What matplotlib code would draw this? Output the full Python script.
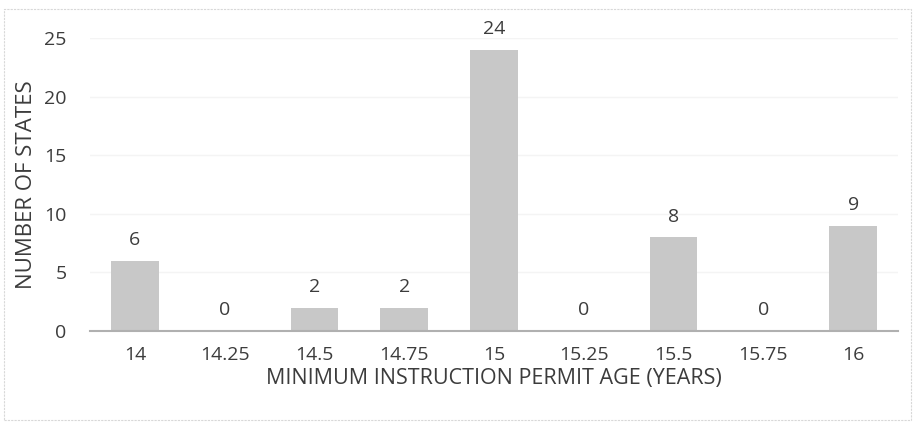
import matplotlib
matplotlib.use("Agg")
import matplotlib.pyplot as plt
from matplotlib.patches import Rectangle

categories = ["14", "14.25", "14.5", "14.75", "15", "15.25", "15.5", "15.75", "16"]
counts = [6, 0, 2, 2, 24, 0, 8, 0, 9]
yticks = [0, 5, 10, 15, 20, 25]

plt.rcParams['font.family'] = ['Open Sans', 'DejaVu Sans']
txt = '#3c3c3c'

fig = plt.figure(figsize=(9.15, 4.28), dpi=100)
fig.patch.set_facecolor('white')
fig.add_artist(Rectangle((4/915, 1-420/428), 907/915, 411/428, transform=fig.transFigure,
                         fill=False, edgecolor='#d8d8d8', lw=0.8, linestyle=(0, (2, 1))))
ax = fig.add_axes([90/915, 1-331/428, 808/915, 293/428])
x = list(range(len(categories)))
ax.bar(x, counts, width=0.53, color='#c8c8c8', zorder=2)
for xi, c in zip(x, counts):
    ax.text(xi, c + 1.0, str(c), ha='center', va='bottom', fontsize=14, color=txt)
ax.set_xlim(-0.5, len(categories) - 0.5)
ax.set_ylim(0, 25)
ax.set_yticks(yticks)
ax.set_xticks(x)
ax.set_xticklabels(categories)
ax.tick_params(axis='both', length=0, labelsize=14, labelcolor=txt)
ax.tick_params(axis='y', pad=17)
ax.tick_params(axis='x', pad=11)
ax.grid(axis='y', color='#f4f4f4', lw=1, zorder=0)
for s in ['top', 'right', 'left']:
    ax.spines[s].set_visible(False)
ax.spines['bottom'].set_color('#b0b0b0')
ax.spines['bottom'].set_linewidth(1.5)
ax.set_xlabel('MINIMUM INSTRUCTION PERMIT AGE (YEARS)', fontsize=15.5, color=txt, labelpad=3)
ax.set_ylabel('NUMBER OF STATES', fontsize=16, color=txt, labelpad=5)
fig.savefig('out.png', dpi=100)
